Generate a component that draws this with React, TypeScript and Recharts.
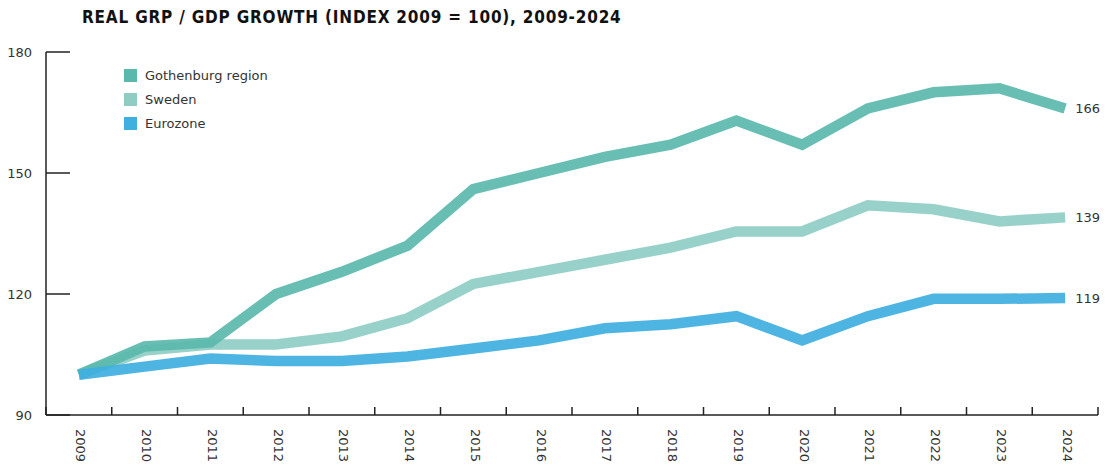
import React from 'react';
import { LineChart, Line, XAxis, YAxis, Legend, LabelList } from 'recharts';

const years = ['2009', '2010', '2011', '2012', '2013', '2014', '2015', '2016', '2017', '2018', '2019', '2020', '2021', '2022', '2023', '2024'];
const gothenburg = [100, 107, 108, 120, 125.5, 132, 146, 150, 154, 157, 163, 157, 166, 170, 171, 166];
const sweden = [100, 106, 107.5, 107.5, 109.5, 114, 122.5, 125.5, 128.5, 131.5, 135.5, 135.5, 142, 141, 138, 139];
const eurozone = [100, 102, 104, 103.4, 103.4, 104.5, 106.5, 108.5, 111.5, 112.5, 114.5, 108.5, 114.5, 118.8, 118.8, 119];
const yTicks = [90, 120, 150, 180];

const series = [
    { key: 'gothenburg', name: 'Gothenburg region', color: '#5bb8ac' },
    { key: 'sweden', name: 'Sweden', color: '#8fcdc4' },
    { key: 'eurozone', name: 'Eurozone', color: '#3fafe0' },
];

const data = years.map((year, i) => ({
    year,
    gothenburg: gothenburg[i],
    sweden: sweden[i],
    eurozone: eurozone[i],
}));

const WIDTH = 1107;
const HEIGHT = 465;
const AXIS_X = 46;
const PLOT_RIGHT = 1098;
const HALF_BAND = (PLOT_RIGHT - AXIS_X) / years.length / 2;
const FONT = '"DejaVu Sans", sans-serif';
const INK = '#222';

const XTick = (props: any) => {
    const { x, y, payload, index } = props;
    const last = index === years.length - 1;
    return (
        <g>
            <line x1={x - HALF_BAND} x2={x - HALF_BAND} y1={y} y2={y - 8} stroke={INK} strokeWidth={1.5} />
            {last && <line x1={x + HALF_BAND} x2={x + HALF_BAND} y1={y} y2={y - 8} stroke={INK} strokeWidth={1.5} />}
            <text
                x={x + 2}
                y={y + 14}
                transform={`rotate(90 ${x + 2} ${y + 14})`}
                textAnchor="start"
                dominantBaseline="central"
                fontFamily={FONT}
                fontSize={13}
                fill="#333"
            >
                {payload.value}
            </text>
        </g>
    );
};

const YTick = (props: any) => {
    const { x, y, payload } = props;
    return (
        <g>
            <line x1={x} x2={x + 24} y1={y} y2={y} stroke={INK} strokeWidth={1.5} />
            <text x={x - 14} y={y} textAnchor="end" dominantBaseline="central" fontFamily={FONT} fontSize={13} fill="#333">
                {payload.value}
            </text>
        </g>
    );
};

const EndLabel = (props: any) => {
    const { x, y, value, index } = props;
    if (index !== years.length - 1) return null;
    return (
        <text x={x + 10} y={y} dominantBaseline="central" fontFamily={FONT} fontSize={13} fill="#333">
            {Math.round(value)}
        </text>
    );
};

const LegendBox = () => (
    <div style={{ fontFamily: FONT, fontSize: 13, color: '#333' }}>
        {series.map((s) => (
            <div key={s.key} style={{ display: 'flex', alignItems: 'center', height: 24 }}>
                <span style={{ width: 13, height: 13, background: s.color, marginRight: 8, display: 'inline-block' }} />
                {s.name}
            </div>
        ))}
    </div>
);

const drawOrder = ['sweden', 'gothenburg', 'eurozone'];

export default function App() {
    return (
        <div style={{ position: 'absolute', left: 0, top: 0, width: WIDTH, height: HEIGHT, background: '#fff' }}>
            <div
                style={{
                    position: 'absolute',
                    left: 82,
                    top: 7,
                    fontFamily: '"DejaVu Sans Condensed", "DejaVu Sans", sans-serif',
                    fontWeight: 'bold',
                    fontSize: 17,
                    letterSpacing: 0.8,
                    color: '#111',
                    whiteSpace: 'nowrap',
                }}
            >
                REAL GRP / GDP GROWTH (INDEX 2009 = 100), 2009-2024
            </div>
            <LineChart width={WIDTH} height={HEIGHT} data={data} margin={{ top: 52, right: WIDTH - PLOT_RIGHT, left: 0, bottom: 0 }}>
                <XAxis
                    dataKey="year"
                    height={50}
                    padding={{ left: HALF_BAND, right: HALF_BAND }}
                    tickSize={0}
                    tickMargin={0}
                    tickLine={false}
                    interval={0}
                    axisLine={{ stroke: INK, strokeWidth: 1.5 }}
                    tick={<XTick />}
                />
                <YAxis
                    domain={[90, 180]}
                    ticks={yTicks}
                    width={AXIS_X}
                    tickSize={0}
                    tickMargin={0}
                    tickLine={false}
                    axisLine={{ stroke: INK, strokeWidth: 1.5 }}
                    tick={<YTick />}
                />
                <Legend
                    layout="vertical"
                    align="center"
                    verticalAlign="middle"
                    wrapperStyle={{ top: 63, left: 124, width: 'auto' }}
                    content={<LegendBox />}
                />
                {drawOrder.map((k) => {
                    const s = series.find((d) => d.key === k)!;
                    return (
                        <Line
                            key={s.key}
                            type="linear"
                            dataKey={s.key}
                            name={s.name}
                            stroke={s.color}
                            strokeWidth={10.5}
                            strokeOpacity={0.92}
                            strokeLinejoin="miter"
                            strokeLinecap="butt"
                            dot={false}
                            activeDot={false}
                            isAnimationActive={false}
                        >
                            <LabelList dataKey={s.key} content={<EndLabel />} />
                        </Line>
                    );
                })}
            </LineChart>
        </div>
    );
}
